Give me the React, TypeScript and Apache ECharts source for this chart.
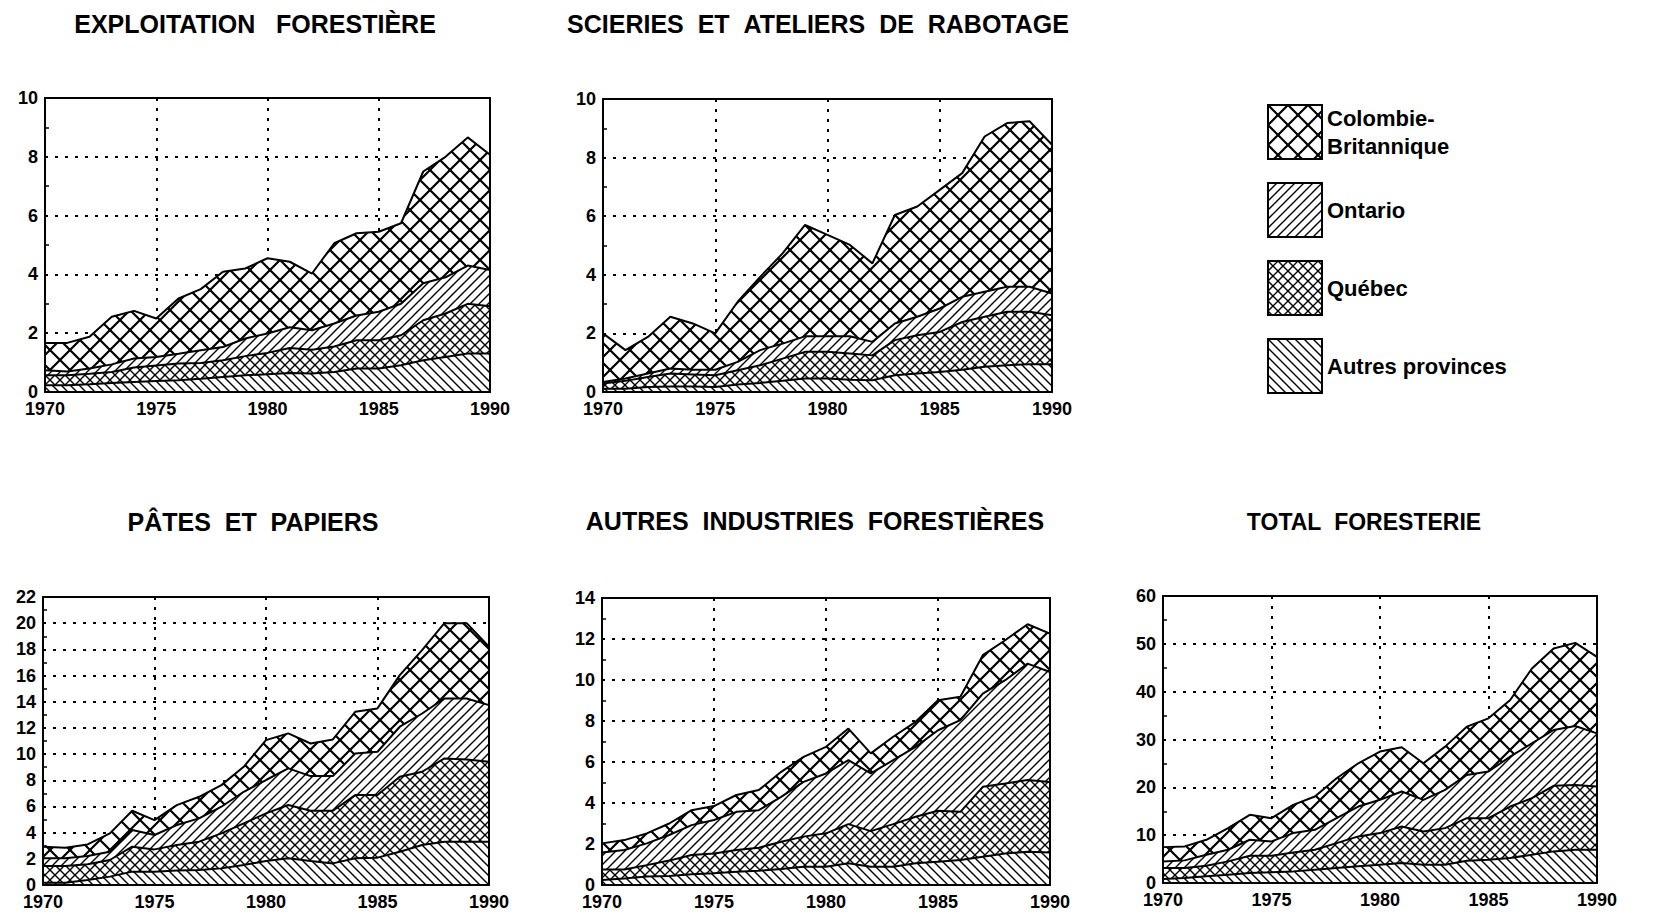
import React, { useEffect, useRef } from 'react';
import * as echarts from 'echarts';

const years = ['1970', '1971', '1972', '1973', '1974', '1975', '1976', '1977', '1978', '1979', '1980', '1981', '1982', '1983', '1984', '1985', '1986', '1987', '1988', '1989', '1990'];

const provinceNames = ['Autres provinces', 'Québec', 'Ontario', 'Colombie-\nBritannique'];

// Exploitation forestière
const expAutres = [0.23, 0.23, 0.26, 0.31, 0.34, 0.37, 0.40, 0.45, 0.51, 0.57, 0.60, 0.65, 0.63, 0.68, 0.80, 0.80, 0.91, 1.08, 1.19, 1.31, 1.31];
const expQuebec = [0.34, 0.34, 0.36, 0.37, 0.49, 0.53, 0.57, 0.54, 0.57, 0.65, 0.73, 0.85, 0.81, 0.87, 0.96, 0.96, 1.02, 1.36, 1.48, 1.69, 1.61];
const expOntario = [0.17, 0.13, 0.18, 0.26, 0.31, 0.29, 0.33, 0.43, 0.45, 0.60, 0.66, 0.70, 0.66, 0.78, 0.84, 0.97, 1.07, 1.26, 1.23, 1.30, 1.23];
const expCB = [0.93, 0.97, 1.08, 1.62, 1.62, 1.31, 1.88, 2.08, 2.56, 2.38, 2.56, 2.23, 1.93, 2.73, 2.80, 2.72, 2.74, 3.80, 4.10, 4.36, 3.92];

// Scieries et ateliers de rabotage
const sciAutres = [0.11, 0.11, 0.17, 0.19, 0.19, 0.17, 0.26, 0.31, 0.38, 0.46, 0.46, 0.42, 0.40, 0.57, 0.63, 0.68, 0.76, 0.86, 0.91, 0.95, 0.95];
const sciQuebec = [0.18, 0.27, 0.34, 0.44, 0.41, 0.40, 0.48, 0.60, 0.76, 0.91, 0.91, 0.89, 0.85, 1.20, 1.31, 1.37, 1.63, 1.71, 1.83, 1.79, 1.67];
const sciOntario = [0.05, 0.08, 0.12, 0.17, 0.16, 0.19, 0.29, 0.52, 0.51, 0.53, 0.53, 0.59, 0.46, 0.57, 0.63, 0.80, 0.86, 0.85, 0.85, 0.85, 0.74];
const sciCB = [1.66, 0.97, 1.25, 1.77, 1.58, 1.24, 2.05, 2.50, 3.08, 3.80, 3.46, 3.12, 2.68, 3.70, 3.76, 4.05, 4.22, 5.30, 5.59, 5.65, 5.08];

// Pâtes et papiers
const papAutres = [0.18, 0.18, 0.38, 0.64, 1.02, 1.02, 1.10, 1.15, 1.27, 1.53, 1.83, 2.04, 1.83, 1.65, 2.04, 2.09, 2.54, 3.05, 3.31, 3.31, 3.31];
const papQuebec = [1.27, 1.27, 1.20, 1.27, 1.91, 1.70, 1.95, 2.16, 2.67, 3.18, 3.64, 4.07, 3.84, 4.02, 4.83, 4.78, 5.73, 5.60, 6.36, 6.28, 6.10];
const papOntario = [0.59, 0.59, 0.63, 0.63, 1.27, 1.10, 1.53, 1.78, 2.04, 2.41, 2.55, 2.80, 2.65, 2.65, 3.18, 3.31, 3.82, 4.45, 4.58, 4.66, 4.33];
const papCB = [0.89, 0.81, 0.89, 1.40, 1.47, 1.14, 1.52, 1.65, 1.65, 1.91, 3.05, 2.67, 2.49, 2.80, 3.18, 3.31, 3.94, 4.84, 5.75, 5.75, 4.46];

// Autres industries forestières
const autAutres = [0.24, 0.32, 0.41, 0.44, 0.52, 0.57, 0.65, 0.70, 0.78, 0.89, 0.89, 1.06, 0.89, 0.89, 1.06, 1.14, 1.22, 1.38, 1.54, 1.62, 1.58];
const autQuebec = [0.52, 0.44, 0.56, 0.75, 0.94, 0.97, 1.06, 1.12, 1.33, 1.47, 1.63, 1.91, 1.74, 2.08, 2.27, 2.48, 2.35, 3.41, 3.41, 3.50, 3.45];
const autOntario = [0.82, 0.95, 1.06, 1.25, 1.46, 1.63, 1.86, 1.83, 2.19, 2.67, 2.92, 3.12, 2.81, 3.12, 3.41, 3.93, 4.47, 4.55, 5.04, 5.68, 5.36];
const autCB = [0.45, 0.48, 0.49, 0.56, 0.73, 0.68, 0.82, 0.98, 1.22, 1.22, 1.30, 1.54, 0.98, 1.14, 1.22, 1.46, 1.14, 1.87, 1.95, 1.92, 1.87];

// Total foresterie
const totAutres = [0.83, 1.04, 1.39, 1.74, 2.09, 2.23, 2.43, 2.78, 3.13, 3.48, 3.82, 4.17, 3.82, 3.82, 4.66, 4.87, 5.22, 5.91, 6.61, 6.95, 6.95];
const totQuebec = [2.30, 2.09, 2.23, 2.78, 3.61, 3.47, 3.97, 4.17, 5.21, 6.26, 6.61, 7.65, 6.96, 7.65, 8.90, 8.69, 10.77, 11.82, 13.70, 13.56, 13.22];
const totOntario = [1.39, 1.60, 2.29, 2.43, 3.34, 2.99, 4.03, 4.18, 5.22, 6.25, 6.96, 7.30, 6.61, 8.00, 9.04, 9.74, 10.44, 11.48, 11.68, 12.31, 11.12];
const totCB = [2.98, 2.92, 3.13, 4.52, 5.22, 4.87, 5.91, 6.95, 8.34, 9.04, 10.08, 9.25, 7.64, 9.04, 10.08, 11.12, 11.82, 15.64, 17.04, 17.38, 16.00];

const panelTitles = [
  'EXPLOITATION\u00a0\u00a0\u00a0FORESTIÈRE',
  'SCIERIES\u00a0\u00a0ET\u00a0\u00a0ATELIERS\u00a0\u00a0DE\u00a0\u00a0RABOTAGE',
  'PÂTES\u00a0\u00a0ET\u00a0\u00a0PAPIERS',
  'AUTRES\u00a0\u00a0INDUSTRIES\u00a0\u00a0FORESTIÈRES',
  'TOTAL\u00a0\u00a0FORESTERIE',
];
const panelMax = [10, 10, 22, 14, 60];
const panelInterval = [2, 2, 2, 2, 10];
const panelSeries = [
  [expAutres, expQuebec, expOntario, expCB],
  [sciAutres, sciQuebec, sciOntario, sciCB],
  [papAutres, papQuebec, papOntario, papCB],
  [autAutres, autQuebec, autOntario, autCB],
  [totAutres, totQuebec, totOntario, totCB],
];

// layout (pixels)
const gridBoxes = [
  { left: 45, top: 98, width: 445, height: 294 },
  { left: 603, top: 99, width: 449, height: 293 },
  { left: 43, top: 597, width: 446, height: 288 },
  { left: 602, top: 598, width: 448, height: 287 },
  { left: 1163, top: 596, width: 434, height: 287 },
];
const titlePos = [
  [255, 24],
  [818, 24],
  [253, 522],
  [815, 521],
  [1364, 522],
];
const titleSize = [25, 25, 25, 25, 23];

const FONT = '"Liberation Sans", Arial, Helvetica, sans-serif';

function makeHatch(size: number, lw: number, dirs: string[]) {
  const c = document.createElement('canvas');
  c.width = size;
  c.height = size;
  const g = c.getContext('2d')!;
  g.fillStyle = '#ffffff';
  g.fillRect(0, 0, size, size);
  g.strokeStyle = '#000000';
  g.lineWidth = lw;
  for (const d of dirs) {
    g.beginPath();
    for (const o of [-size, 0, size]) {
      if (d === '/') {
        g.moveTo(o - 1, size + 1);
        g.lineTo(o + size + 1, -1);
      } else {
        g.moveTo(o - 1, -1);
        g.lineTo(o + size + 1, size + 1);
      }
    }
    g.stroke();
  }
  return c;
}

export default function App() {
  const ref = useRef<HTMLDivElement>(null);

  useEffect(() => {
    if (!ref.current) return;
    const chart = echarts.init(ref.current, undefined, { renderer: 'svg' });

    const makePatterns = () => [
      { image: makeHatch(9, 1.4, ['\\']), repeat: 'repeat' },
      { image: makeHatch(10, 1.4, ['/', '\\']), repeat: 'repeat' },
      { image: makeHatch(9, 1.4, ['/']), repeat: 'repeat' },
      { image: makeHatch(20, 2.2, ['/', '\\']), repeat: 'repeat' },
    ];

    const frameLine = { show: true, onZero: false, lineStyle: { color: '#000', width: 2 } };
    const dash = { color: '#000', width: 2, type: [3, 7] as number[] };

    const xAxis: any[] = [];
    const yAxis: any[] = [];
    const series: any[] = [];
    const graphic: any[] = [];

    gridBoxes.forEach((_, g) => {
      const pats = makePatterns();
      xAxis.push({
        gridIndex: g, type: 'category', data: years, boundaryGap: false, position: 'bottom', z: 0,
        axisLine: { show: false }, axisTick: { show: false },
        axisLabel: { interval: 4, color: '#000', fontFamily: FONT, fontSize: 18, fontWeight: 'bold', margin: 8 },
        splitLine: { show: true, interval: 4, lineStyle: dash },
      });
      xAxis.push({
        gridIndex: g, type: 'value', position: 'bottom', min: 0, max: 1, z: 10,
        axisLine: frameLine, axisTick: { show: false }, axisLabel: { show: false }, splitLine: { show: false },
      });
      xAxis.push({
        gridIndex: g, type: 'value', position: 'top', min: 0, max: 1, z: 10,
        axisLine: frameLine, axisTick: { show: false }, axisLabel: { show: false }, splitLine: { show: false },
      });
      yAxis.push({
        gridIndex: g, type: 'value', position: 'left', min: 0, max: panelMax[g], interval: panelInterval[g], z: 0,
        axisLine: { show: false }, axisTick: { show: false, inside: true },
        minorTick: { show: true, splitNumber: 2, length: 4, lineStyle: { color: '#000', width: 1.5 } },
        axisLabel: { color: '#000', fontFamily: FONT, fontSize: 18, fontWeight: 'bold', margin: 7 },
        splitLine: { show: true, lineStyle: dash },
      });
      yAxis.push({
        gridIndex: g, type: 'value', position: 'left', min: 0, max: 1, z: 10,
        axisLine: frameLine, axisTick: { show: false }, axisLabel: { show: false }, splitLine: { show: false },
      });
      yAxis.push({
        gridIndex: g, type: 'value', position: 'right', min: 0, max: 1, z: 10,
        axisLine: frameLine, axisTick: { show: false }, axisLabel: { show: false }, splitLine: { show: false },
      });

      panelSeries[g].forEach((vals, k) => {
        series.push({
          type: 'line',
          name: provinceNames[k],
          xAxisIndex: 3 * g,
          yAxisIndex: 3 * g,
          stack: 'panel' + g,
          showSymbol: false,
          symbol: 'none',
          silent: true,
          lineStyle: { color: '#000', width: 2 },
          itemStyle: { color: '#000' },
          areaStyle: { color: pats[k], opacity: 1 },
          data: vals,
        });
      });

      graphic.push({
        type: 'text',
        x: titlePos[g][0],
        y: titlePos[g][1],
        style: {
          text: panelTitles[g],
          fill: '#000',
          fontFamily: FONT,
          fontSize: titleSize[g],
          fontWeight: 'bold',
          align: 'center',
          verticalAlign: 'middle',
        },
      });
    });

    const legendPats = makePatterns();
    const legendOrder = [3, 2, 1, 0];

    chart.setOption({
      animation: false,
      backgroundColor: '#fff',
      grid: gridBoxes.map((b) => ({ ...b, containLabel: false })),
      xAxis,
      yAxis,
      series,
      graphic,
      legend: {
        orient: 'vertical',
        left: 1262,
        top: 99,
        itemWidth: 54,
        itemHeight: 54,
        itemGap: 22,
        icon: 'rect',
        selectedMode: false,
        textStyle: { color: '#000', fontFamily: FONT, fontSize: 22, fontWeight: 'bold', lineHeight: 28 },
        data: legendOrder.map((k) => ({
          name: provinceNames[k],
          itemStyle: { color: legendPats[k], borderColor: '#000', borderWidth: 2 },
        })),
      },
    });

    return () => chart.dispose();
  }, []);

  return (
    <div
      ref={ref}
      style={{ position: 'fixed', left: 0, top: 0, width: 1665, height: 916, background: '#fff' }}
    />
  );
}
